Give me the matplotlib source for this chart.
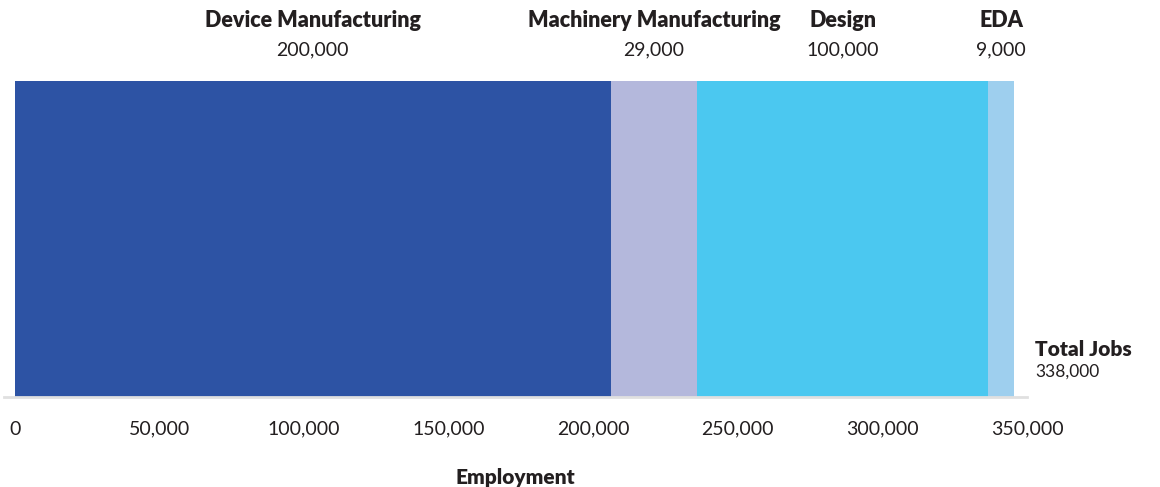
import matplotlib
matplotlib.use("Agg")
import matplotlib.pyplot as plt

# segment data (bar widths; labels as printed on the chart)
categories = ["Device Manufacturing", "Machinery Manufacturing", "Design", "EDA"]
values = [206000, 30000, 100500, 9000]
value_labels = ["200,000", "29,000", "100,000", "9,000"]
colors = ["#2d53a4", "#b4b8dc", "#4bc8f0", "#9ecfee"]
total_label = "338,000"
xticks = [0, 50000, 100000, 150000, 200000, 250000, 300000, 350000]

text_color = "#231f20"
plt.rcParams['font.family'] = ['Lato', 'DejaVu Sans']

fig = plt.figure(figsize=(11.6, 4.87), dpi=100)
ax = fig.add_axes([4 / 1160, 1 - 397 / 487, 1023 / 1160, 316 / 487])

left = 0
for name, val, lab, col in zip(categories, values, value_labels, colors):
    ax.barh(0.5, val, height=1.0, left=left, color=col, zorder=2)
    mid = left + val / 2
    ax.text(mid, 1.0 + 31 / 316, lab, ha='center', va='center', fontsize=14,
            fontweight='normal', color=text_color, clip_on=False)
    ax.text(mid, 1.0 + 61 / 316, name, ha='center', va='center', fontsize=15.5,
            fontweight='heavy', color=text_color, clip_on=False)
    left += val

# total label at the right of the bar
ax.text(1.0 + 8 / 1023, 0.15, "Total Jobs", transform=ax.transAxes, ha='left',
        va='center', fontsize=15, fontweight='heavy', color=text_color)
ax.text(1.0 + 8 / 1023, 0.08, total_label, transform=ax.transAxes, ha='left',
        va='center', fontsize=12.5, fontweight='normal', color=text_color)

ax.set_xlim(-3800, 350000)
ax.set_ylim(0, 1)
ax.set_xticks(xticks)
ax.set_xticklabels([f"{t:,}" for t in xticks], fontsize=14, fontweight='normal',
                   color=text_color)
ax.tick_params(axis='x', length=0, pad=17)
ax.set_yticks([])
for s in ['top', 'right', 'left']:
    ax.spines[s].set_visible(False)
ax.spines['bottom'].set_color('#e0e0e0')
ax.spines['bottom'].set_linewidth(2)
ax.set_xlabel("Employment", fontsize=15, fontweight='heavy', color=text_color,
              labelpad=22)

fig.savefig("out.png", dpi=100)
